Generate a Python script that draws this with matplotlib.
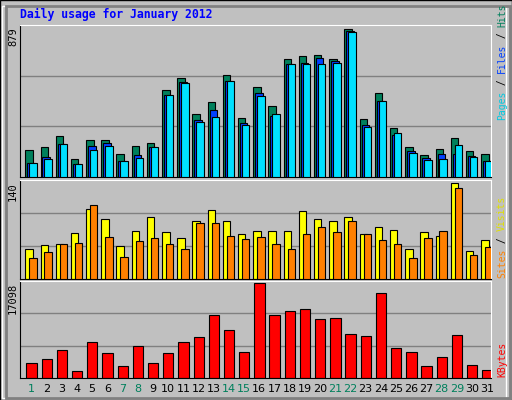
import matplotlib
matplotlib.use("Agg")
import matplotlib.pyplot as plt
from matplotlib.patches import Rectangle
import numpy as np

days = list(range(1, 32))
weekend = [1, 7, 8, 14, 15, 21, 22, 28, 29]
hits = [163,181,247,109,223,223,139,187,205,521,587,378,444,605,354,539,420,700,718,724,704,879,348,503,294,181,133,169,235,157,139]
files = [86,121,199,80,187,205,97,133,181,491,563,342,402,569,324,503,366,676,682,706,688,867,312,455,253,157,115,139,139,127,97]
pages = [86,109,199,80,163,187,97,115,181,491,557,330,360,569,312,485,378,676,676,676,682,861,300,450,265,145,103,109,193,121,97]
sites = [43,49,51,67,102,87,48,70,91,69,60,85,101,85,66,70,70,70,99,88,84,91,66,76,72,44,69,63,140,41,57]
visits = [31,40,51,52,108,61,32,55,60,51,44,81,82,63,58,61,51,44,66,76,69,85,66,57,51,31,60,70,132,35,46]
kbytes = [2683,3432,5117,1186,6427,4555,2122,5678,2683,4555,6427,7363,11294,8674,4742,17098,11294,12043,12418,10546,10733,7925,7550,15226,5304,4742,2122,3806,7738,2309,1373]

W, H = 512, 400
fig = plt.figure(figsize=(W/100, H/100), dpi=100, facecolor="#C0C0C0")

def ax_px(x0, y0, x1, y1):
    return fig.add_axes([x0/W, 1-y1/H, (x1-x0)/W, (y1-y0)/H])

fig.patches.append(Rectangle((0, 0), 1, 1, transform=fig.transFigure, fill=False, edgecolor="black", lw=1))
fig.patches.append(Rectangle((2/W, 2/H), 1-8/W, 1-8/H, transform=fig.transFigure, fill=False, edgecolor="white", lw=1))
fig.patches.append(Rectangle((6/W, 2/H), 1-8/W, 1-8/H, transform=fig.transFigure, fill=False, edgecolor="#808080", lw=2))

mono = "DejaVu Sans Mono"
fig.text(20/W, 1-14/H, "Daily usage for January 2012", color="#0000FF", fontsize=8.3, fontweight="bold", family=mono, va="center")

x = np.arange(31)
panels = [(25, 177), (180, 279), (281, 378)]
axes = [ax_px(20, y0, 491, y1) for (y0, y1) in panels]

def style(ax, top):
    ax.set_facecolor("#C0C0C0")
    ax.set_xlim(0, 31)
    ax.set_ylim(0, top)
    ax.set_xticks([]); ax.set_yticks([])
    for s in ax.spines.values():
        s.set_color("black")
    ax.spines["top"].set_color("white"); ax.spines["right"].set_color("white")
    for f in (1/3, 2/3):
        ax.axhline(top*f, color="#808080", lw=1, zorder=0)

ax = axes[0]
style(ax, 879*1.03)
ax.bar(x+0.35, hits, width=0.49, align="edge", color="#00805C", edgecolor="black", lw=0.8, zorder=2)
ax.bar(x+0.48, files, width=0.49, align="edge", color="#0040FF", edgecolor="black", lw=0.8, zorder=3)
ax.bar(x+0.61, pages, width=0.49, align="edge", color="#00E0FF", edgecolor="black", lw=0.8, zorder=4)

ax = axes[1]
style(ax, 140*1.03)
ax.bar(x+0.35, sites, width=0.49, align="edge", color="#FFFF00", edgecolor="black", lw=0.8, zorder=2)
ax.bar(x+0.61, visits, width=0.49, align="edge", color="#FF8000", edgecolor="black", lw=0.8, zorder=3)

ax = axes[2]
style(ax, 17098*1.02)
ax.bar(x+0.42, kbytes, width=0.68, align="edge", color="#FF0000", edgecolor="black", lw=0.8, zorder=2)

for lbl, ytop in [("879", 27), ("140", 182), ("17098", 283)]:
    fig.text(18/W, 1-ytop/H, lbl, rotation=90, fontsize=7.5, family=mono, va="top", ha="right", color="black")

FS = 7
def right_label(parts, ybottom):
    cw = 0.6 * FS * 100 / 72
    y = ybottom
    for txt, col in parts:
        fig.text(502/W, 1-y/H, txt, rotation=90, fontsize=FS, family=mono, va="bottom", ha="center", color=col)
        y -= cw*len(txt)

right_label([("Pages", "#00C8E0"), (" / ", "black"), ("Files", "#0040FF"), (" / ", "black"), ("Hits", "#00805C")], 120)
right_label([("Sites", "#FF8000"), (" / ", "black"), ("Visits", "#E0E000")], 278)
right_label([("KBytes", "#FF0000")], 377)

for i, d in enumerate(days):
    px = 20 + (i + 0.75) * (471/31)
    fig.text(px/W, 1-389/H, str(d), fontsize=8, ha="center", va="center",
             color="#00805C" if d in weekend else "black")

fig.savefig("out.png", dpi=100, facecolor=fig.get_facecolor())
